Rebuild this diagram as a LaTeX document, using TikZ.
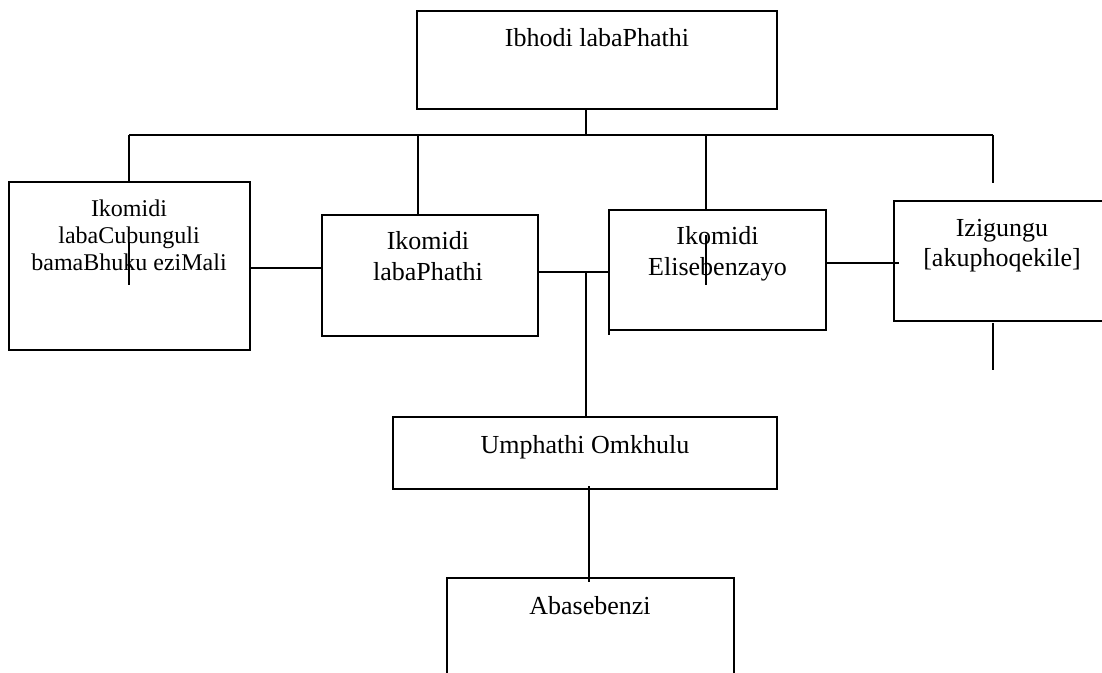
\documentclass[tikz,border=0pt]{standalone}
\usepackage{fontspec}
\setmainfont{Liberation Serif}
\begin{document}
\begin{tikzpicture}[x=0.75pt,y=-0.75pt,
  box/.style={draw=black,line width=1pt,rectangle,inner sep=0pt,outer sep=0pt},
  lbl/.style={inner sep=0pt,anchor=base,align=center,font=\fontsize{19.5}{23.25}\selectfont},
  con/.style={draw=black,line width=1pt}]
\useasboundingbox (0,0) rectangle (1102,673);
\clip (0,0) rectangle (1102,673);
% boxes
\node[box,minimum width=270pt,minimum height=73.5pt] (top) at (597,60) {};
\node[box,minimum width=180.75pt,minimum height=126pt] (left) at (129.5,266) {};
\node[box,minimum width=162pt,minimum height=90.75pt] (b2) at (430,275.5) {};
\node[box,minimum width=162.75pt,minimum height=90pt] (b3) at (717.5,270) {};
\node[box,minimum width=162pt,minimum height=90pt] (b4) at (1002,261) {};
\node[box,minimum width=288pt,minimum height=54pt] (um) at (585,453) {};
\node[box,minimum width=215.25pt,minimum height=106.5pt] (ab) at (590.5,649) {};
% texts (base anchor = baseline of the last line)
\node[lbl] (ttop) at (597,47) {Ibhodi labaPhathi};
\node[lbl,font=\fontsize{18}{20.6}\selectfont] (tleft) at (129,271) {Ikomidi\\labaCubunguli\\bamaBhuku eziMali};
\node[lbl] (tb2) at (428,281) {Ikomidi\\labaPhathi};
\node[lbl] (tb3) at (717.5,276) {Ikomidi\\Elisebenzayo};
\node[lbl,font=\fontsize{19.5}{22.5}\selectfont] (tb4) at (1002,267) {Izigungu\\{[akuphoqekile]}};
\node[lbl] (tum) at (585,453) {Umphathi Omkhulu};
\node[lbl] (tab) at (590,614) {Abasebenzi};
% coordinates
\coordinate (busL) at (129,135);
\coordinate (busM) at (586,135);
\coordinate (bus2) at (418,135);
\coordinate (bus3) at (706,135);
\coordinate (busR) at (993,135);
\coordinate (r4end) at (993,183);
\coordinate (h1) at (0,268);
\coordinate (h2) at (0,272);
\coordinate (h3) at (0,263);
\coordinate (drop) at (586,272);
\coordinate (inL1) at (129,242);
\coordinate (inL2) at (129,285);
\coordinate (in31) at (706,235);
\coordinate (in32) at (706,285);
\coordinate (ex31) at (609,263);
\coordinate (ex32) at (609,335);
\coordinate (b4end) at (899,263);
\coordinate (b4d1) at (993,323);
\coordinate (b4d2) at (993,370);
\coordinate (um1) at (589,486);
\coordinate (um2) at (589,582);
% connectors
\draw[con] (top.south -| busM) -- (busM);
\draw[con] (busL) -- (busR);
\draw[con] (busL) -- (busL |- left.north);
\draw[con] (bus2) -- (bus2 |- b2.north);
\draw[con] (bus3) -- (bus3 |- b3.north);
\draw[con] (busR) -- (r4end);
\draw[con] (inL1) -- (inL2);
\draw[con] (left.east |- h1) -- (b2.west |- h1);
\draw[con] (b2.east |- h2) -- (b3.west |- h2);
\draw[con] (drop) -- (drop |- um.north);
\draw[con] (ex31) -- (ex32);
\draw[con] (in31) -- (in32);
\draw[con] (b3.east |- h3) -- (b4end);
\draw[con] (b4d1) -- (b4d2);
\draw[con] (um1) -- (um2);
\end{tikzpicture}
\end{document}
